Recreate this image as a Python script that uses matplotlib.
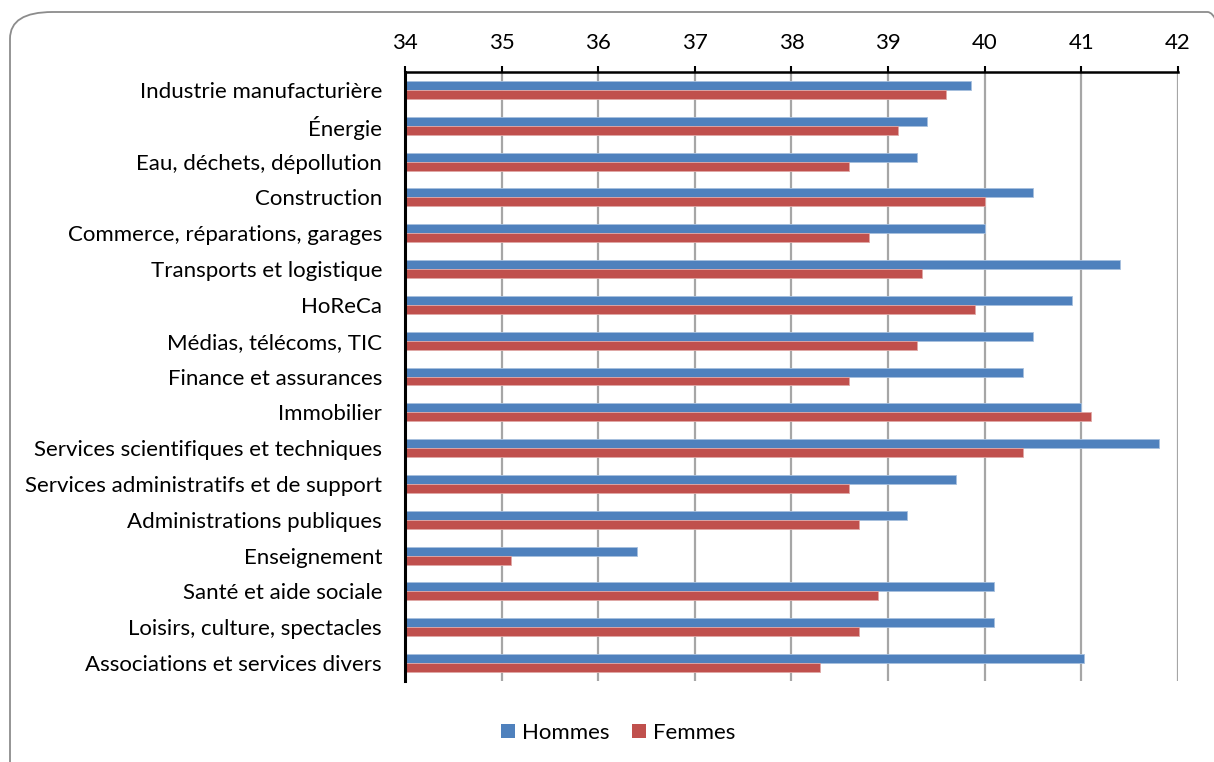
import numpy as np
import matplotlib.pyplot as plt
from matplotlib.patches import FancyBboxPatch
from matplotlib.lines import Line2D

plt.rcParams['font.family'] = ['Lato', 'DejaVu Sans']

secteurs = ['Industrie manufacturière', 'Énergie', 'Eau, déchets, dépollution',
            'Construction', 'Commerce, réparations, garages', 'Transports et logistique',
            'HoReCa', 'Médias, télécoms, TIC', 'Finance et assurances', 'Immobilier',
            'Services scientifiques et techniques', 'Services administratifs et de support',
            'Administrations publiques', 'Enseignement', 'Santé et aide sociale',
            'Loisirs, culture, spectacles', 'Associations et services divers']
hommes = [39.86, 39.4, 39.3, 40.5, 40.0, 41.4, 40.9, 40.5, 40.4, 41.0,
          41.8, 39.7, 39.2, 36.4, 40.1, 40.1, 41.03]
femmes = [39.6, 39.1, 38.6, 40.0, 38.8, 39.35, 39.9, 39.3, 38.6, 41.1,
          40.4, 38.6, 38.7, 35.1, 38.9, 38.7, 38.3]
xticks = [34, 35, 36, 37, 38, 39, 40, 41, 42]

bleu = '#4F81BD'
rouge = '#C0504D'

fig = plt.figure(figsize=(12.14, 7.62), dpi=100)
ax = fig.add_axes([0.3336, 0.1063, 0.6367, 0.7992])

# cadre arrondi
cadre = FancyBboxPatch((10 / 1214, 1 - 790 / 762), 1240 / 1214, 778 / 762,
                       boxstyle='round,pad=0,rounding_size=0.035',
                       transform=fig.transFigure, fill=False,
                       edgecolor='#8C8C8C', linewidth=1.3, zorder=0)
fig.patches.append(cadre)

y = np.arange(len(secteurs))
h = 0.25
base = xticks[0]
ax.barh(y - h / 2, np.array(hommes) - base, height=h, left=base, color=bleu,
        edgecolor='#A7C0DE', linewidth=0.6, zorder=3, label='Hommes')
ax.barh(y + h / 2, np.array(femmes) - base, height=h, left=base, color=rouge,
        edgecolor='#E0A8A6', linewidth=0.6, zorder=3, label='Femmes')

ax.set_xlim(xticks[0], xticks[-1])
ax.set_ylim(len(secteurs) - 0.5, -0.5)
ax.set_xticks(xticks)
ax.set_yticks(y)
ax.set_yticklabels(secteurs)
ax.xaxis.tick_top()
ax.tick_params(axis='x', direction='out', length=4.5, width=1.5, color='black',
               labelsize=16, pad=9)
ax.tick_params(axis='y', length=0, labelsize=16, pad=16.5)
ax.grid(axis='x', color='#A6A6A6', linewidth=1.6, zorder=0)
ax.set_axisbelow(True)

for s in ['right', 'bottom']:
    ax.spines[s].set_visible(False)
ax.spines['top'].set_linewidth(1.8)
ax.spines['left'].set_linewidth(2.2)
ax.spines['left'].set_zorder(4)

handles = [Line2D([], [], marker='s', linestyle='none', markersize=10,
                  markerfacecolor=c, markeredgewidth=0) for c in (bleu, rouge)]
fig.legend(handles, ['Hommes', 'Femmes'], loc='center', bbox_to_anchor=(618 / 1214, 1 - 733 / 762),
           ncol=2, frameon=False, fontsize=16, handlelength=0.65,
           handletextpad=0.3, columnspacing=1.0)

fig.savefig('out.png', dpi=100)
